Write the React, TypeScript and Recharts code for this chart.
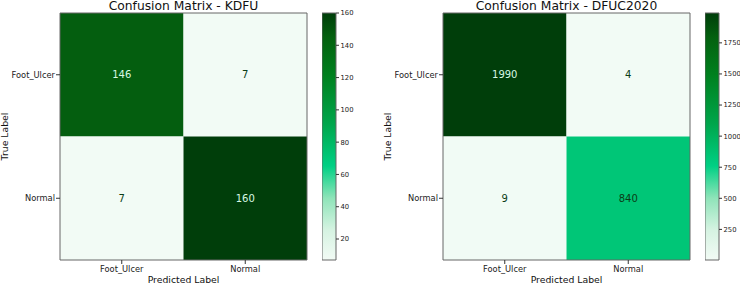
import { ScatterChart, Scatter, XAxis, YAxis, ReferenceArea, Label } from "recharts"

const classes = ["Foot_Ulcer", "Normal"]

const kdfuTitle = "Confusion Matrix - KDFU"
const kdfuValues = [
  [146, 7],
  [7, 160],
]
const kdfuTicks = [20, 40, 60, 80, 100, 120, 140, 160]

const dfucTitle = "Confusion Matrix - DFUC2020"
const dfucValues = [
  [1990, 4],
  [9, 840],
]
const dfucTicks = [250, 500, 750, 1000, 1250, 1500, 1750]

const FONT = "DejaVu Sans"

// custom greens map: pale -> mint -> deep green
const stops: [number, string][] = [
  [0, "#f2fbf5"],
  [0.12, "#d6f3e2"],
  [0.25, "#8fe4b9"],
  [0.38, "#00d084"],
  [0.55, "#00a64c"],
  [0.75, "#00801e"],
  [0.9, "#04610f"],
  [1, "#003e0a"],
]

const hex = (c: string) => [1, 3, 5].map((i) => parseInt(c.slice(i, i + 2), 16))

function colorAt(t: number) {
  t = Math.max(0, Math.min(1, t))
  for (let i = 1; i < stops.length; i++) {
    if (t <= stops[i][0]) {
      const [t0, c0] = stops[i - 1]
      const [t1, c1] = stops[i]
      const f = (t - t0) / (t1 - t0)
      const a = hex(c0)
      const b = hex(c1)
      return `rgb(${a.map((v, k) => Math.round(v + (b[k] - v) * f)).join(",")})`
    }
  }
  return stops[stops.length - 1][1]
}

function Panel({ left, title, values, ticks, gid }: { left: number; title: string; values: number[][]; ticks: number[]; gid: string }) {
  const flat = values.flat()
  const vmin = Math.min(...flat)
  const vmax = Math.max(...flat)
  const cells = values.flatMap((row, r) =>
    row.map((value, c) => ({ x: c + 0.5, y: r + 0.5, value, t: (value - vmin) / (vmax - vmin) }))
  )
  const barPoints = flat.map((v) => ({ x: 0.5, y: v }))

  return (
    <>
      <div
        style={{
          position: "absolute",
          left: left + 60,
          top: 0,
          width: 247,
          textAlign: "center",
          fontFamily: FONT,
          fontSize: 12.3,
          lineHeight: "12px",
          color: "#111",
          whiteSpace: "nowrap",
        }}
      >
        {title}
      </div>
      <div style={{ position: "absolute", left, top: 0 }}>
        <ScatterChart width={320} height={284} margin={{ top: 13, right: 13, bottom: 0, left: 0 }}>
          <XAxis
            type="number"
            dataKey="x"
            domain={[0, 2]}
            ticks={[0.5, 1.5]}
            tickFormatter={(v: number) => classes[Math.floor(v)]}
            height={24}
            axisLine={false}
            tickSize={4}
            tickMargin={2}
            tickLine={{ stroke: "#333" }}
            tick={{ fontSize: 8.3, fill: "#222", fontFamily: FONT }}
          >
            <Label value="Predicted Label" position="insideBottom" offset={1} style={{ fontSize: 9.3, fill: "#111", fontFamily: FONT }} />
          </XAxis>
          <YAxis
            type="number"
            dataKey="y"
            domain={[0, 2]}
            reversed
            ticks={[0.5, 1.5]}
            tickFormatter={(v: number) => classes[Math.floor(v)]}
            width={60}
            axisLine={false}
            tickSize={4}
            tickMargin={1}
            tickLine={{ stroke: "#333" }}
            tick={{ fontSize: 8.3, fill: "#222", fontFamily: FONT }}
          >
            <Label
              value="True Label"
              position="insideLeft"
              angle={-90}
              offset={5}
              style={{ fontSize: 9.3, fill: "#111", fontFamily: FONT, textAnchor: "middle" }}
            />
          </YAxis>
          {cells.map((c, i) => (
            <ReferenceArea
              key={i}
              x1={c.x - 0.5}
              x2={c.x + 0.5}
              y1={c.y - 0.5}
              y2={c.y + 0.5}
              fill={colorAt(c.t)}
              fillOpacity={1}
              stroke="none"
            />
          ))}
          <ReferenceArea x1={0} x2={2} y1={0} y2={2} fill="none" stroke="#666" strokeWidth={1} />
          <Scatter
            data={cells}
            isAnimationActive={false}
            shape={(p: any) => (
              <text
                x={p.cx}
                y={p.cy}
                textAnchor="middle"
                dominantBaseline="central"
                fontFamily={FONT}
                fontSize={10}
                fill={p.payload.t > 0.5 ? "#d6f8e4" : "#0b3d16"}
              >
                {p.payload.value}
              </text>
            )}
          />
        </ScatterChart>
      </div>
      <div style={{ position: "absolute", left: left + 322, top: 0 }}>
        <ScatterChart width={35} height={284} margin={{ top: 13, right: 0, bottom: 24, left: 0 }}>
          <defs>
            <linearGradient id={gid} x1="0" y1="1" x2="0" y2="0">
              {stops.map(([o, c]) => (
                <stop key={o} offset={o} stopColor={c} />
              ))}
            </linearGradient>
          </defs>
          <XAxis type="number" dataKey="x" domain={[0, 1]} hide />
          <YAxis
            type="number"
            dataKey="y"
            orientation="right"
            domain={[vmin, vmax]}
            allowDataOverflow
            ticks={ticks}
            width={21}
            axisLine={false}
            tickSize={3}
            tickMargin={1.5}
            tickLine={{ stroke: "#333" }}
            tick={{ fontSize: 6.8, fill: "#222", fontFamily: FONT, textAnchor: "start" }}
          />
          <ReferenceArea x1={0} x2={1} y1={vmin} y2={vmax} fill={`url(#${gid})`} fillOpacity={1} stroke="#666" strokeWidth={1} />
          <Scatter data={barPoints} isAnimationActive={false} shape={() => <g />} />
        </ScatterChart>
      </div>
    </>
  )
}

export default function App() {
  return (
    <div style={{ position: "absolute", left: 0, top: 0, width: 740, height: 284, background: "#fff", overflow: "hidden" }}>
      <Panel left={0} title={kdfuTitle} values={kdfuValues} ticks={kdfuTicks} gid="cb1" />
      <Panel left={383} title={dfucTitle} values={dfucValues} ticks={dfucTicks} gid="cb2" />
    </div>
  )
}
